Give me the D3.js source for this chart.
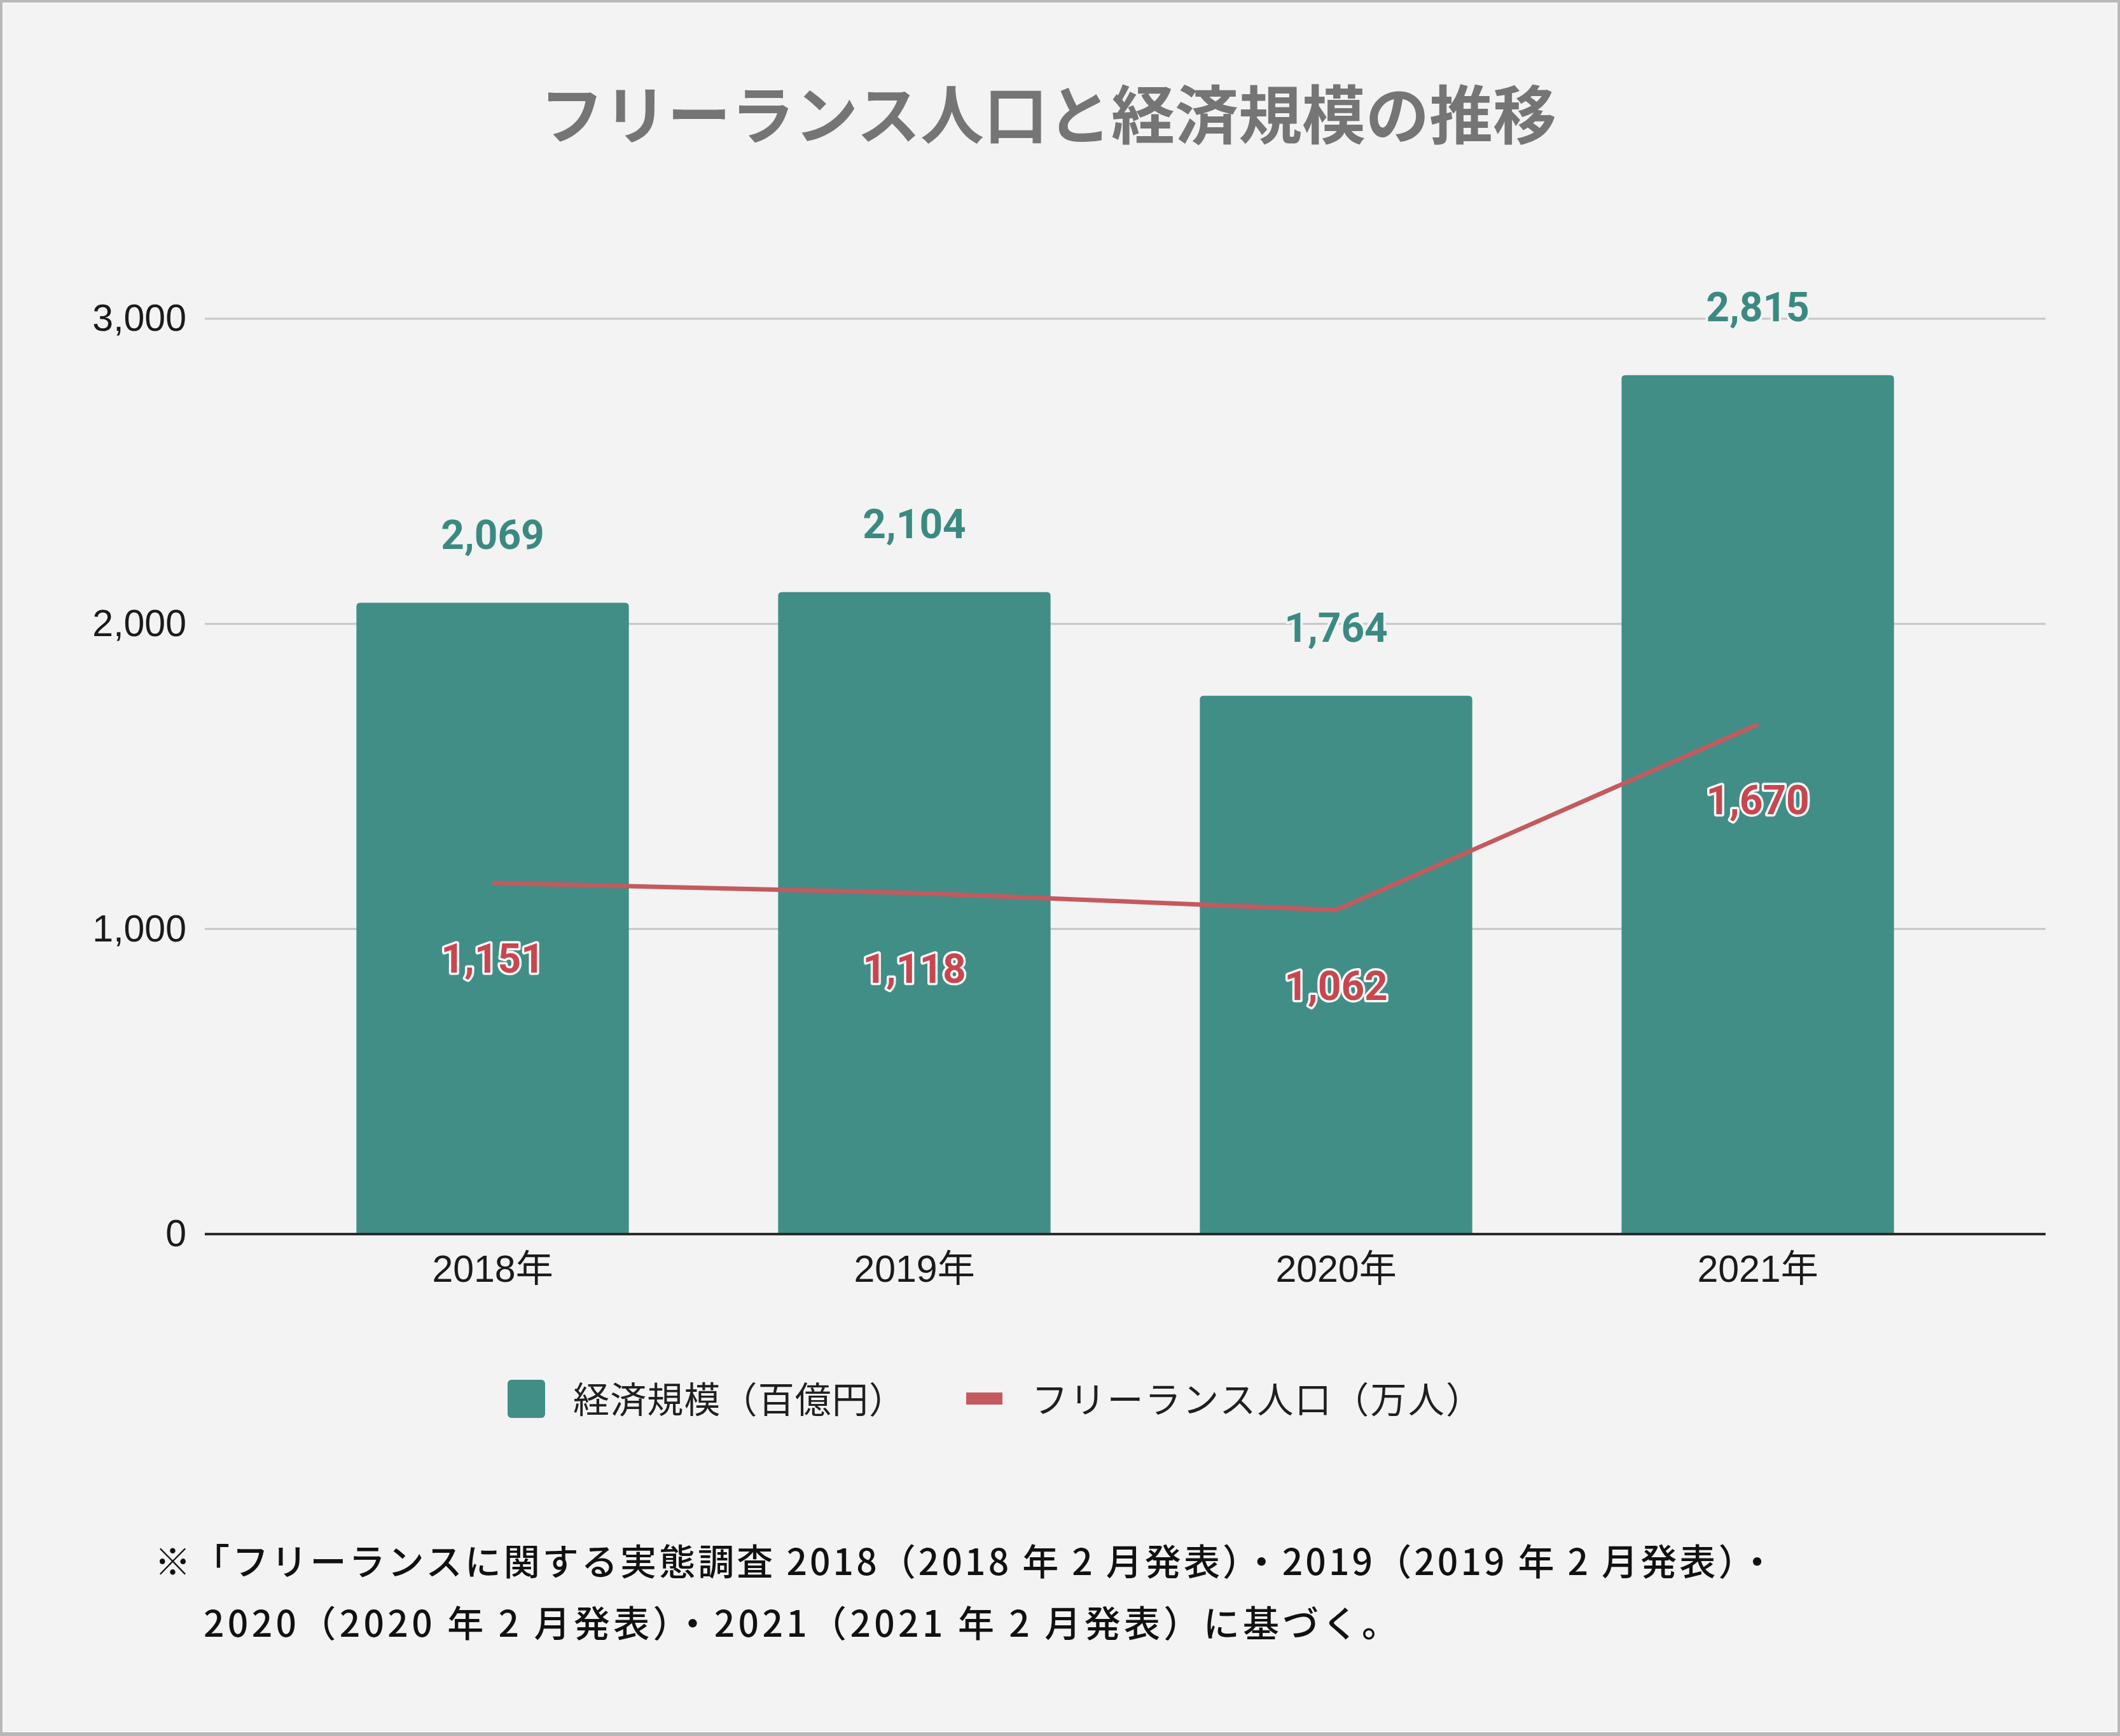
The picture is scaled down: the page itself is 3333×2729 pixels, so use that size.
<!DOCTYPE html>
<html>
<head>
<meta charset="utf-8">
<script src="https://cdn.jsdelivr.net/npm/d3@7"></script>
<style>
  html, body { margin: 0; padding: 0; background: #f3f3f3; }
  svg { display: block; }
</style>
</head>
<body>
<script>
// ---- data ----
const categories = ["2018年", "2019年", "2020年", "2021年"];
const economicScale = [2069, 2104, 1764, 2815];   // 経済規模（百億円）
const freelancePop = [1151, 1118, 1062, 1670];    // フリーランス人口（万人）
const yTicks = [0, 1000, 2000, 3000];
const titleText = "フリーランス人口と経済規模の推移";
const legendLabels = ["経済規模（百億円）", "フリーランス人口（万人）"];
const footnoteLines = [
  "※「フリーランスに関する実態調査 2018（2018 年 2 月発表）・2019（2019 年 2 月発表）・",
  "2020（2020 年 2 月発表）・2021（2021 年 2 月発表）に基づく。"
];

// ---- layout ----
const W = 3333, H = 2729;
const BG = "#f3f3f3";
const TEAL = "#418e87", TEAL_LABEL = "#3b8a82";
const RED = "#c45a5e", RED_LABEL = "#c8474f";
const latin = "'Liberation Sans', Arial, 'Noto Sans CJK JP', sans-serif";
const cjk = "'Noto Sans CJK JP', 'Noto Sans', sans-serif";

const svg = d3.select("body").append("svg")
  .attr("width", W).attr("height", H);

svg.append("rect").attr("x", 0).attr("y", 0).attr("width", W).attr("height", H).attr("fill", "#b8b8b8");
svg.append("rect").attr("x", 4).attr("y", 4).attr("width", W - 8).attr("height", H - 10).attr("fill", "#ffffff");
svg.append("rect").attr("x", 5).attr("y", 5).attr("width", W - 10).attr("height", H - 12).attr("fill", BG);

// title
svg.append("text")
  .attr("x", 1648).attr("y", 174)
  .attr("text-anchor", "middle").attr("dominant-baseline", "central")
  .attr("font-family", cjk).attr("font-weight", 700).attr("font-size", 100)
  .attr("fill", "#757575")
  .text(titleText);

const plotLeft = 322, plotRight = 3216;
const y = d3.scaleLinear().domain([0, 3000]).range([1940, 501]);
const x = d3.scaleBand().domain(categories).range([443, 3095])
  .paddingInner(0.354).paddingOuter(0.177);

// gridlines
const grid = svg.append("g");
grid.selectAll("line").data(yTicks.filter(d => d > 0)).join("line")
  .attr("x1", plotLeft).attr("x2", plotRight)
  .attr("y1", d => y(d)).attr("y2", d => y(d))
  .attr("stroke", "#c6c6c6").attr("stroke-width", 3);

// y axis labels via d3 axis
const yAxis = d3.axisLeft(y).tickValues(yTicks).tickFormat(d3.format(",")).tickSize(0).tickPadding(0);
const yg = svg.append("g").attr("transform", `translate(293,0)`).call(yAxis);
yg.select(".domain").remove();
yg.selectAll("text")
  .attr("font-family", latin).attr("font-size", 59).attr("fill", "#1a1a1a")
  .attr("dy", "0.32em").attr("x", 0);

// bars with rounded top corners
const r = 6;
svg.append("g").selectAll("path").data(economicScale).join("path")
  .attr("fill", TEAL)
  .attr("d", (d, i) => {
    const x0 = x(categories[i]), x1 = x0 + x.bandwidth();
    const yt = y(d), yb = y(0);
    return `M${x0},${yb} L${x0},${yt + r} Q${x0},${yt} ${x0 + r},${yt} L${x1 - r},${yt} Q${x1},${yt} ${x1},${yt + r} L${x1},${yb} Z`;
  });

// x axis line
svg.append("line")
  .attr("x1", plotLeft).attr("x2", plotRight)
  .attr("y1", y(0)).attr("y2", y(0))
  .attr("stroke", "#2b2b2b").attr("stroke-width", 4);

// x axis labels
const xAxis = d3.axisBottom(x).tickSize(0).tickPadding(0);
const xg = svg.append("g").attr("transform", `translate(0,1995)`).call(xAxis);
xg.select(".domain").remove();
xg.selectAll("text")
  .attr("font-family", latin).attr("font-size", 59).attr("fill", "#1a1a1a")
  .attr("dominant-baseline", "central").attr("dy", 0).attr("y", 0);

// line series
const cx = c => x(c) + x.bandwidth() / 2;
const line = d3.line().x((d, i) => cx(categories[i])).y(d => y(d));
svg.append("path").datum(freelancePop)
  .attr("d", line).attr("fill", "none")
  .attr("stroke", RED).attr("stroke-width", 7).attr("stroke-linejoin", "round");

// data labels - bars
const fmt = d3.format(",");
svg.append("g").selectAll("text").data(economicScale).join("text")
  .attr("x", (d, i) => cx(categories[i]))
  .attr("y", d => y(d) - 85)
  .attr("text-anchor", "middle")
  .attr("font-family", "Roboto, sans-serif").attr("font-weight", 700).attr("font-size", 64)
  .attr("fill", TEAL_LABEL)
  .attr("stroke", BG).attr("stroke-width", 8).attr("paint-order", "stroke").attr("stroke-linejoin", "round")
  .text(d => fmt(d));

// data labels - line
svg.append("g").selectAll("text").data(freelancePop).join("text")
  .attr("x", (d, i) => cx(categories[i]))
  .attr("y", d => y(d) + 141)
  .attr("text-anchor", "middle")
  .attr("font-family", "Roboto, sans-serif").attr("font-weight", 700).attr("font-size", 64)
  .attr("fill", RED_LABEL)
  .attr("stroke", "#ffffff").attr("stroke-width", 7).attr("paint-order", "stroke").attr("stroke-linejoin", "round")
  .text(d => fmt(d));

// legend
const lg = svg.append("g");
lg.append("rect").attr("x", 798).attr("y", 2169).attr("width", 59).attr("height", 60).attr("rx", 6).attr("fill", TEAL);
lg.append("text").attr("x", 901).attr("y", 2196).attr("dominant-baseline", "central")
  .attr("font-family", cjk).attr("font-size", 57).attr("fill", "#1f1f1f")
  .attr("textLength", 522).attr("lengthAdjust", "spacing")
  .text(legendLabels[0]);
lg.append("rect").attr("x", 1519).attr("y", 2189).attr("width", 57).attr("height", 19).attr("fill", RED);
lg.append("text").attr("x", 1622).attr("y", 2196).attr("dominant-baseline", "central")
  .attr("font-family", cjk).attr("font-size", 57).attr("fill", "#1f1f1f")
  .attr("textLength", 708).attr("lengthAdjust", "spacing")
  .text(legendLabels[1]);

// footnote
const fn = svg.append("g");
fn.append("text").attr("x", 243).attr("y", 2451).attr("dominant-baseline", "central")
  .attr("font-family", cjk).attr("font-weight", 500).attr("font-size", 57).attr("fill", "#111")
  .attr("textLength", 2548).attr("lengthAdjust", "spacing")
  .text(footnoteLines[0]);
fn.append("text").attr("x", 320).attr("y", 2548).attr("dominant-baseline", "central")
  .attr("font-family", cjk).attr("font-weight", 500).attr("font-size", 57).attr("fill", "#111")
  .attr("textLength", 1878).attr("lengthAdjust", "spacing")
  .text(footnoteLines[1]);
</script>
</body>
</html>
